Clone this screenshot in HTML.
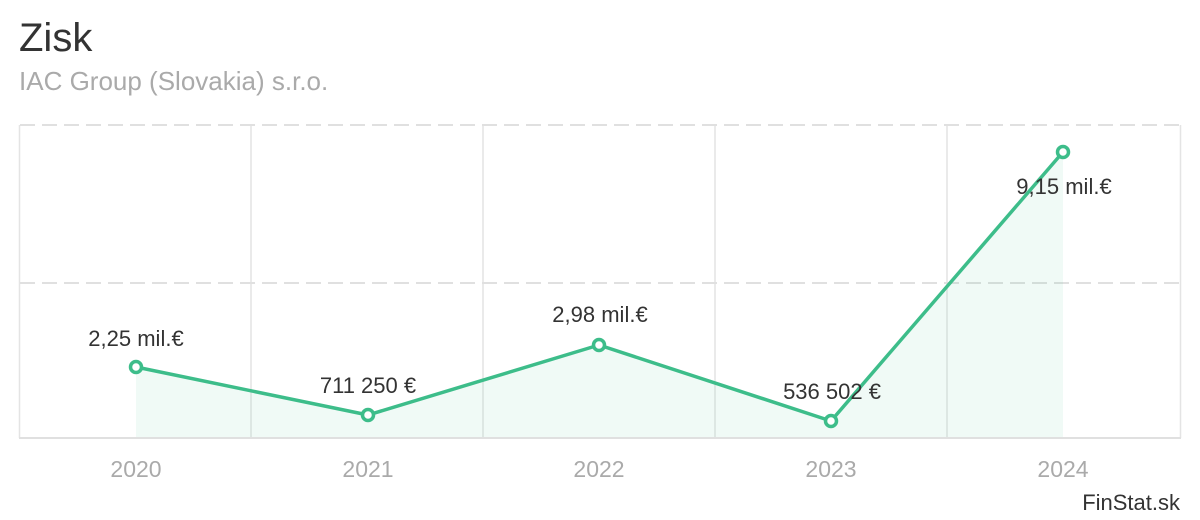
<!DOCTYPE html>
<html><head><meta charset="utf-8"><style>
html,body{margin:0;padding:0;background:#fff;width:1200px;height:520px;overflow:hidden}
svg{display:block}
</style></head><body>
<svg width="1200" height="520" viewBox="0 0 1200 520" xmlns="http://www.w3.org/2000/svg" font-family="Liberation Sans, Arial, sans-serif">
<text x="19" y="51" font-size="40" fill="#333">Zisk</text>
<text x="19" y="90" font-size="26" fill="#aaa">IAC Group (Slovakia) s.r.o.</text>
<g stroke="#e4e4e4" stroke-width="1.5" fill="none">
<line x1="251" y1="125" x2="251" y2="438"/>
<line x1="483" y1="125" x2="483" y2="438"/>
<line x1="715" y1="125" x2="715" y2="438"/>
<line x1="947" y1="125" x2="947" y2="438"/>
<line x1="19.5" y1="125" x2="19.5" y2="438"/>
<line x1="1180.5" y1="125" x2="1180.5" y2="438"/>
</g>
<g stroke="#e0e0e0" stroke-width="2" stroke-dasharray="15,7" fill="none">
<line x1="20" y1="125" x2="1180" y2="125"/>
<line x1="20" y1="283" x2="1180" y2="283"/>
</g>
<path d="M136,367 L368,415 L599,345 L831,421 L1063,152 L1063,438 L136,438 Z" fill="#3dbd8a" fill-opacity="0.08"/>
<line x1="19" y1="438" x2="1181" y2="438" stroke="#e0e0e0" stroke-width="2"/>
<polyline points="136,367 368,415 599,345 831,421 1063,152" fill="none" stroke="#3dbd8a" stroke-width="3.5" stroke-linejoin="round"/>
<g fill="#fff" stroke="#3dbd8a" stroke-width="3.5">
<circle cx="136" cy="367" r="5.5"/>
<circle cx="368" cy="415" r="5.5"/>
<circle cx="599" cy="345" r="5.5"/>
<circle cx="831" cy="421" r="5.5"/>
<circle cx="1063" cy="152" r="5.5"/>
</g>
<g font-size="22" fill="#333" text-anchor="middle">
<text x="136" y="346">2,25 mil.€</text>
<text x="368" y="393">711 250 €</text>
<text x="600" y="322">2,98 mil.€</text>
<text x="832" y="399">536 502 €</text>
<text x="1064" y="194">9,15 mil.€</text>
</g>
<g font-size="23" fill="#aaa" text-anchor="middle">
<text x="136" y="477">2020</text>
<text x="368" y="477">2021</text>
<text x="599" y="477">2022</text>
<text x="831" y="477">2023</text>
<text x="1063" y="477">2024</text>
</g>
<text x="1180" y="510" font-size="22" fill="#333" text-anchor="end">FinStat.sk</text>
</svg>
</body></html>
